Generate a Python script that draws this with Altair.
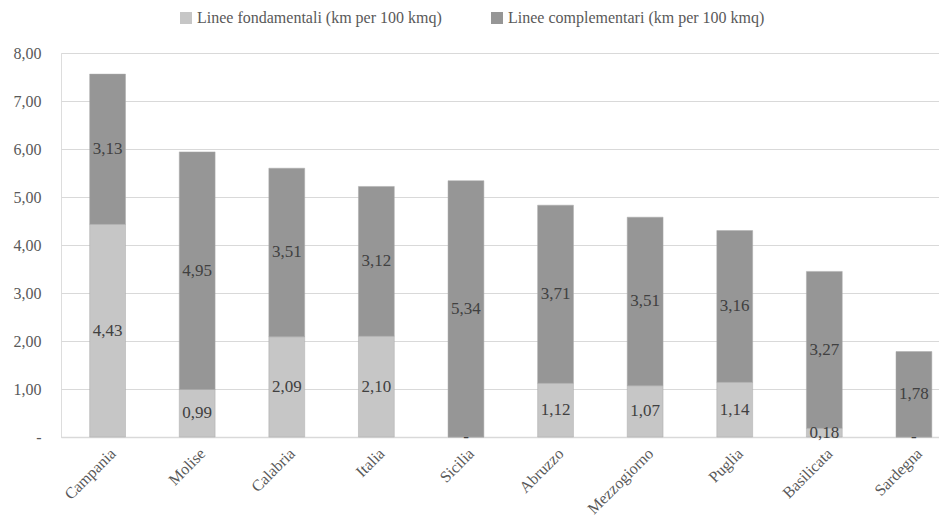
import altair as alt
import pandas as pd

regions = ["Campania", "Molise", "Calabria", "Italia", "Sicilia", "Abruzzo",
           "Mezzogiorno", "Puglia", "Basilicata", "Sardegna"]
fondamentali = [4.43, 0.99, 2.09, 2.10, 0.00, 1.12, 1.07, 1.14, 0.18, 0.00]
complementari = [3.13, 4.95, 3.51, 3.12, 5.34, 3.71, 3.51, 3.16, 3.27, 1.78]
series = ["Linee fondamentali (km per 100 kmq)", "Linee complementari (km per 100 kmq)"]
colors = ["#c6c6c6", "#969696"]

rows = []
for r, f, c in zip(regions, fondamentali, complementari):
    rows.append({"region": r, "serie": series[0], "start": 0.0, "end": f, "val": f})
    rows.append({"region": r, "serie": series[1], "start": f, "end": f + c, "val": c})
df = pd.DataFrame(rows)
df["mid"] = (df["start"] + df["end"]) / 2

FONT = "Liberation Serif"

x = alt.X("region:N", sort=regions, title=None,
          scale=alt.Scale(paddingInner=0.6, paddingOuter=0.2, align=0.8),
          axis=alt.Axis(labelAngle=-45, labelAlign="right", labelBaseline="top",
                        labelFont=FONT, labelFontSize=16,
                        labelColor="#595959", ticks=False, domainColor="#d9d9d9",
                        domainWidth=1.5, labelPadding=8))

bars = alt.Chart(df).mark_bar(stroke="#aaaaaa", strokeWidth=0.5).encode(
    x=x,
    y=alt.Y("start:Q", title=None, scale=alt.Scale(domain=[0, 8]),
            axis=alt.Axis(values=[0, 1, 2, 3, 4, 5, 6, 7, 8], ticks=False, domain=False,
                          gridColor="#d9d9d9", gridWidth=1, labelFont=FONT,
                          labelFontSize=16, labelColor="#595959", labelPadding=20,
                          labelExpr="datum.value == 0 ? '-' : replace(format(datum.value, '.2f'), '.', ',')")),
    y2="end:Q",
    color=alt.Color("serie:N", sort=series,
                    scale=alt.Scale(domain=series, range=colors),
                    legend=alt.Legend(title=None, orient="none", direction="horizontal",
                                      legendX=117, legendY=-43, symbolType="square",
                                      symbolSize=144, symbolStrokeWidth=0, labelOffset=3,
                                      labelFont=FONT, labelFontSize=16, labelLimit=0,
                                      labelColor="#595959", columnPadding=47)),
)

labels = alt.Chart(df).transform_calculate(
    txt="datum.val == 0 ? '-' : replace(format(datum.val, '.2f'), '.', ',')"
).mark_text(font=FONT, fontSize=17, color="#404040").encode(
    x=alt.X("region:N", sort=regions),
    y=alt.Y("mid:Q"),
    text="txt:N",
)

chart = alt.layer(bars, labels).properties(
    width=878, height=384,
    padding={"left": 5, "top": 2, "right": 0, "bottom": 0},
).configure_view(stroke=None).configure(background="white", font=FONT)

chart.save("out.html", embed_options={"renderer": "svg", "actions": False})
